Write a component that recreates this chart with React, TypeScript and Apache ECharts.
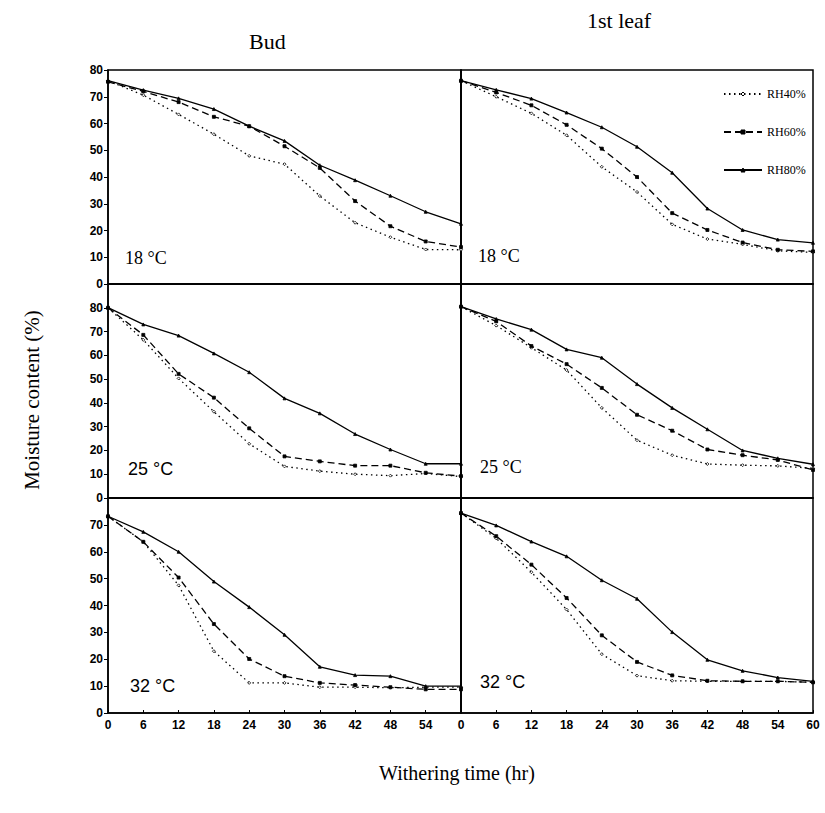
import React, { useEffect, useRef } from "react";
import * as echarts from "echarts";

const hours = [0, 6, 12, 18, 24, 30, 36, 42, 48, 54, 60];
const seriesNames = ["RH40%", "RH60%", "RH80%"];
const yTickLabelsStep = 10;

// Bud
const bud18RH40 = [76, 70.6, 63.4, 56, 47.9, 44.8, 32.9, 22.9, 17.5, 12.9, 12.8];
const bud18RH60 = [75.6, 72, 68, 62.5, 59, 51.5, 43.4, 31, 21.6, 15.9, 13.8];
const bud18RH80 = [76, 72.5, 69.4, 65.4, 59, 53.5, 44.4, 38.8, 33, 27, 22.5];

const bud25RH40 = [80, 66.5, 50.3, 36.3, 22.8, 13.3, 11.3, 10, 9.4, 10.3, 9];
const bud25RH60 = [80, 68.6, 52.2, 42.2, 29.3, 17.5, 15.4, 13.6, 13.6, 10.6, 9.2];
const bud25RH80 = [80.1, 73, 68.3, 60.8, 52.9, 41.9, 35.6, 26.9, 20.4, 14.4, 14.4];

const bud32RH40 = [73.2, 63.7, 47.5, 23, 11.2, 11.2, 9.6, 9.6, 9.4, 9.6, 9.6];
const bud32RH60 = [73.2, 63.7, 50.4, 33.1, 20.1, 13.7, 11.2, 10.4, 9.6, 8.8, 8.8];
const bud32RH80 = [73.2, 67.4, 60, 48.9, 39.4, 29.1, 17.2, 14.1, 13.7, 10, 10];

// 1st leaf
const leaf18RH40 = [76, 70, 63.8, 55.6, 43.8, 34.4, 22.3, 16.8, 14.8, 12.4, 11.8];
const leaf18RH60 = [76, 71.6, 66.8, 59.5, 50.6, 40, 26.5, 20.2, 15.5, 12.8, 12.2];
const leaf18RH80 = [76, 72.6, 69.3, 64.1, 58.6, 51.3, 41.6, 28.2, 20.2, 16.6, 15.4];

const leaf25RH40 = [80.5, 72.5, 63.2, 53.8, 37.9, 24.3, 18, 14.3, 13.8, 13.5, 12.5];
const leaf25RH60 = [80.5, 74.3, 63.9, 56.3, 46.3, 35, 28.3, 20.4, 18, 16, 11.8];
const leaf25RH80 = [80.5, 75.3, 70.8, 62.5, 59, 47.9, 37.9, 28.9, 20, 16.7, 14.2];

const leaf32RH40 = [74.4, 65, 52.4, 38.5, 21.9, 13.9, 12, 11.8, 11.8, 11.8, 11.4];
const leaf32RH60 = [74.4, 65.8, 55.2, 42.8, 28.9, 19, 14, 12, 11.8, 11.8, 11.4];
const leaf32RH80 = [74.4, 69.8, 63.8, 58.3, 49.4, 42.5, 30.1, 19.8, 15.7, 13.2, 11.8];

const columnTitles = ["Bud", "1st leaf"];
const tempLabels = ["18 °C", "25 °C", "32 °C"];
const yMaxByRow = [80, 90, 80];

const panels = [
  [bud18RH40, bud18RH60, bud18RH80],
  [leaf18RH40, leaf18RH60, leaf18RH80],
  [bud25RH40, bud25RH60, bud25RH80],
  [leaf25RH40, leaf25RH60, leaf25RH80],
  [bud32RH40, bud32RH60, bud32RH80],
  [leaf32RH40, leaf32RH60, leaf32RH80],
];

const SERIF = "'Liberation Serif', 'Times New Roman', serif";
const SANS = "'Liberation Sans', Arial, sans-serif";

export default function App() {
  const ref = useRef<HTMLDivElement>(null);

  useEffect(() => {
    if (!ref.current) return;
    const chart = echarts.init(ref.current, undefined, { renderer: "svg" });

    const colLeft = [108, 461];
    const colWidth = [353, 352];
    const rowTop = [70, 284, 498];
    const rowHeight = [214, 214, 215];

    const grids: any[] = [];
    const xAxes: any[] = [];
    const yAxes: any[] = [];
    const series: any[] = [];

    const styles = [
      { type: [1.5, 3.5], symbol: "diamond", fill: "#fff" },
      { type: [7, 4], symbol: "rect", fill: "#000" },
      { type: "solid", symbol: "triangle", fill: "#000" },
    ];

    panels.forEach((vals, i) => {
      const row = Math.floor(i / 2);
      const col = i % 2;
      grids.push({
        left: colLeft[col],
        top: rowTop[row],
        width: colWidth[col],
        height: rowHeight[row],
        show: true,
        borderColor: "#000",
        borderWidth: 1.5,
        backgroundColor: "transparent",
      });
      const isBottom = row === 2;
      xAxes.push({
        type: "value",
        gridIndex: i,
        min: 0,
        max: 60,
        interval: 6,
        axisLine: { show: true, lineStyle: { color: "#000", width: 1.5 } },
        axisTick: { show: isBottom, inside: true, length: 3, lineStyle: { color: "#000" } },
        axisLabel: {
          show: isBottom,
          color: "#000",
          fontFamily: SANS,
          fontWeight: "bold",
          fontSize: 12,
          margin: 6,
          showMaxLabel: col === 1,
        },
        splitLine: { show: false },
      });
      yAxes.push({
        type: "value",
        gridIndex: i,
        min: 0,
        max: yMaxByRow[row],
        interval: yTickLabelsStep,
        axisLine: { show: true, lineStyle: { color: "#000", width: 1.5 } },
        axisTick: { show: col === 0, length: 4, lineStyle: { color: "#000" } },
        axisLabel: {
          show: col === 0,
          color: "#000",
          fontFamily: SANS,
          fontWeight: "bold",
          fontSize: 12,
          margin: 5,
          showMaxLabel: row === 0,
        },
        splitLine: { show: false },
      });
      vals.forEach((arr, s) => {
        series.push({
          type: "line",
          name: seriesNames[s],
          xAxisIndex: i,
          yAxisIndex: i,
          data: hours.map((h, k) => [h, arr[k]]),
          symbol: styles[s].symbol,
          symbolSize: 3,
          showSymbol: true,
          itemStyle: { color: styles[s].fill, borderColor: "#000", borderWidth: 0.8 },
          lineStyle: { color: "#000", width: 1.3, type: styles[s].type as any },
          emphasis: { disabled: true },
        });
      });
    });

    const tempPos = [
      [125, 258, SERIF],
      [478, 256, SERIF],
      [128, 469, SANS],
      [480, 467, SERIF],
      [130, 686, SANS],
      [480, 682, SANS],
    ];

    const graphics: any[] = [
      {
        type: "text",
        left: 249,
        top: 30,
        style: { text: columnTitles[0], font: `22px ${SERIF}`, fill: "#000" },
      },
      {
        type: "text",
        left: 587,
        top: 9,
        style: { text: columnTitles[1], font: `22px ${SERIF}`, fill: "#000" },
      },
      {
        type: "text",
        x: 32,
        y: 400,
        rotation: Math.PI / 2,
        style: {
          text: "Moisture content (%)",
          font: `21px ${SERIF}`,
          fill: "#000",
          align: "center",
          verticalAlign: "middle",
        },
      },
      {
        type: "text",
        x: 457,
        y: 773,
        style: {
          text: "Withering time (hr)",
          font: `20px ${SERIF}`,
          fill: "#000",
          align: "center",
          verticalAlign: "middle",
        },
      },
    ];
    tempPos.forEach((p, i) => {
      graphics.push({
        type: "text",
        x: p[0],
        y: p[1],
        style: {
          text: tempLabels[Math.floor(i / 2)],
          font: `18px ${p[2]}`,
          fill: "#000",
          verticalAlign: "middle",
        },
      });
    });

    chart.setOption({
      animation: false,
      backgroundColor: "#fff",
      grid: grids,
      xAxis: xAxes,
      yAxis: yAxes,
      series,
      legend: {
        data: seriesNames.map((n, s) => ({
          name: n,
          itemStyle: { color: styles[s].fill, borderColor: "#000", borderWidth: 1 },
        })),
        orient: "vertical",
        left: 718,
        top: 83,
        itemWidth: 38,
        itemHeight: 5,
        itemGap: 26,
        itemStyle: { borderColor: "#000" },
        selectedMode: false,
        textStyle: { fontFamily: SERIF, fontSize: 12, color: "#000" },
      },
      graphic: graphics,
    });

    return () => chart.dispose();
  }, []);

  return (
    <div
      ref={ref}
      style={{ position: "fixed", left: 0, top: 0, width: 825, height: 813, background: "#fff" }}
    />
  );
}
